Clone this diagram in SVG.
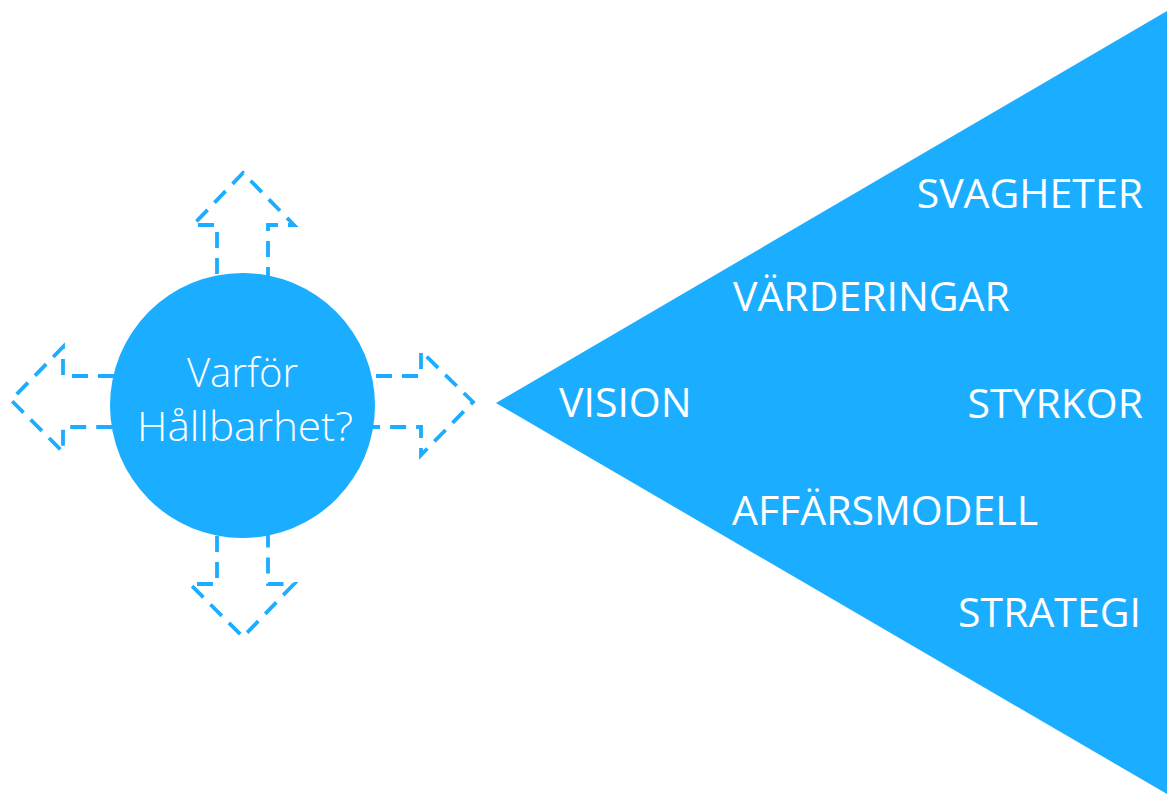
<svg xmlns="http://www.w3.org/2000/svg" width="1167" height="800" viewBox="0 0 1167 800">
  <style>
    .fill { fill: #1BADFF; }
    .arrow { fill: none; stroke: #1BADFF; stroke-width: 3.8; stroke-dasharray: 16 10; stroke-linejoin: miter; }
    .lbl { font-family: "Open Sans", "Noto Sans", "Liberation Sans", sans-serif; font-size: 41px; fill: #FFFFFF; }
    .ctr { font-family: "Open Sans", "Noto Sans", "Liberation Sans", sans-serif; font-size: 40px; font-weight: 300; fill: #FFFFFF; }
  </style>
  <rect width="1167" height="800" fill="#FFFFFF"/>
  <g id="connectors">
    <path id="arrow-up" class="arrow" d="M217,300 L217,225 L193,225 L243,173 L294,225 L268,225 L268,300"/>
    <path id="arrow-down" class="arrow" d="M217,510 L217,584 L190,584 L243,637 L294,584 L268,584 L268,510"/>
    <path id="arrow-right" class="arrow" d="M350,376 L421,376 L421,351 L473,402 L421,455 L421,427 L350,427"/>
    <path id="arrow-left" class="arrow" d="M140,376 L63,376 L63,347 L11,400 L63,452 L63,427 L140,427"/>
  </g>
  <g id="node-circle">
    <circle class="fill" cx="242.5" cy="405.5" r="132.5"/>
    <text class="ctr" x="187" y="387" textLength="111" lengthAdjust="spacingAndGlyphs">Varför</text>
    <text class="ctr" x="137" y="441" textLength="216" lengthAdjust="spacingAndGlyphs">Hållbarhet?</text>
  </g>
  <g id="node-triangle">
    <polygon class="fill" points="496,403 1167,11 1167,794"/>
    <text class="lbl" x="559" y="417">VISION</text>
    <text class="lbl" x="1143" y="208" text-anchor="end">SVAGHETER</text>
    <text class="lbl" x="733" y="311">VÄRDERINGAR</text>
    <text class="lbl" x="1143" y="418" text-anchor="end">STYRKOR</text>
    <text class="lbl" x="732" y="525">AFFÄRSMODELL</text>
    <text class="lbl" x="1141" y="627" text-anchor="end">STRATEGI</text>
  </g>
</svg>
